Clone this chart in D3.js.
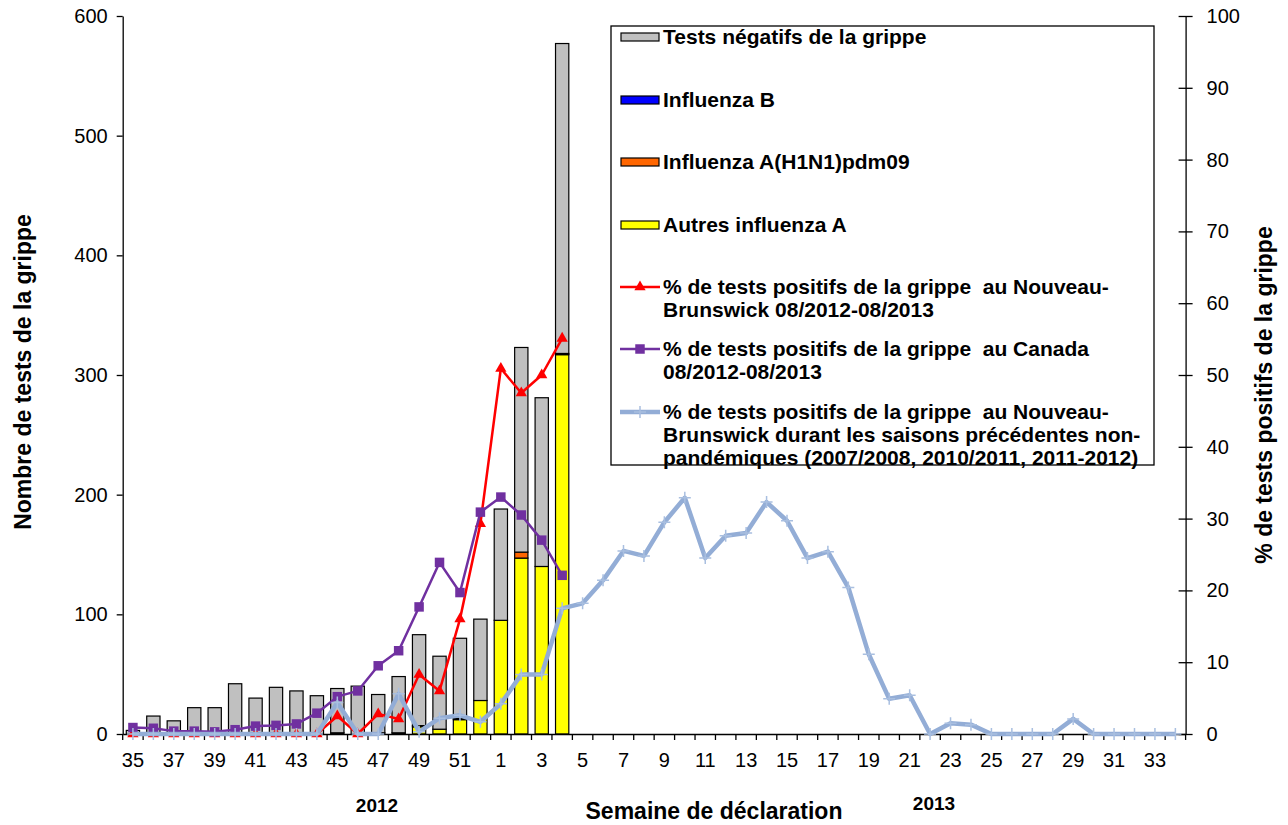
<!DOCTYPE html>
<html>
<head>
<meta charset="utf-8">
<script src="https://cdn.jsdelivr.net/npm/d3@7"></script>
<style>
body { margin: 0; background: #fff; }
svg { font-family: "Liberation Sans", Arial, sans-serif; }
.axis path, .axis line { stroke: #000; stroke-width: 1.3; }
.axis text { font-size: 20px; fill: #000; }
.legend text { font-size: 21px; font-weight: bold; white-space: pre; }
</style>
</head>
<body>
<svg width="1288" height="825"></svg>
<script>
// semaines de déclaration (2012: 35-52, 2013: 1-34)
var weeks = ["35","36","37","38","39","40","41","42","43","44","45","46","47","48","49","50","51","52",
    "1","2","3","4","5","6","7","8","9","10","11","12","13","14","15","16","17","18","19","20",
    "21","22","23","24","25","26","27","28","29","30","31","32","33","34"];

// nombre de tests (semaines 35 à 4)
var autresA  = [0,0,0,0,0,0,0,0,0,0,1,0,1,1,6,4,12,28,95,147,140,317];
var h1n1     = [0,0,0,0,0,0,0,0,0,0,0,0,0,0,1,0,1,0,0,5,0,1];
var grippeB  = [0,0,0,0,0,0,0,0,0,0,0,0,0,0,0,0,0,0,0,0,0,0];
var negatifs = [3,15,11,22,22,42,30,39,36,32,37,40,32,47,76,61,67,68,93,171,141,259];

// % de tests positifs
var pctNB     = [0,0,0,0,0,0,0,0,0,0,2.5,0,2.8,2.1,8.3,6.0,16.0,29.3,50.9,47.5,50.0,55.1];
var pctCanada = [0.9,0.8,0.4,0.4,0.3,0.6,1.1,1.2,1.4,2.9,5.2,6.0,9.5,11.6,17.7,23.9,19.7,30.9,33.0,30.5,27.0,22.1];
var pctHist   = [0,0,0,0,0,0,0,0,0,0,4.4,0,0,5.6,0.3,2.2,2.6,1.7,
    4.2,8.3,8.3,17.5,18.2,21.4,25.5,24.8,29.5,32.9,24.5,27.6,28.0,32.3,29.7,24.5,25.4,20.4,11.1,4.9,
    5.4,0,1.5,1.3,0,0,0,0,2.1,0,0,0,0,0];

var leftTicks = [0,100,200,300,400,500,600];
var rightTicks = [0,10,20,30,40,50,60,70,80,90,100];

var svg = d3.select("svg"),
    plot = {left: 122.7, right: 1185.6, top: 16, bottom: 734};

var x = d3.scaleBand().domain(weeks).range([plot.left, plot.right]).padding(0),
    yLeft = d3.scaleLinear().domain([0, 600]).range([plot.bottom, plot.top]),
    yRight = d3.scaleLinear().domain([0, 100]).range([plot.bottom, plot.top]);

var barW = x.bandwidth() * 0.65;
function cx(w) { return x(w) + x.bandwidth() / 2; }

var keys = ["autresA", "h1n1", "grippeB", "negatifs"],
    colors = {autresA: "#FFFF00", h1n1: "#FF6600", grippeB: "#0000FF", negatifs: "#C0C0C0"};

var rows = negatifs.map(function (v, i) {
    return {week: weeks[i], autresA: autresA[i], h1n1: h1n1[i], grippeB: grippeB[i], negatifs: v};
});
var stacked = d3.stack().keys(keys)(rows);

// barres empilées
svg.append("g").attr("class", "bars")
    .selectAll("g")
    .data(stacked)
    .enter().append("g")
    .attr("fill", function (d) { return colors[d.key]; })
    .selectAll("rect")
    .data(function (d) { return d.filter(function (p) { return p[1] > p[0]; }); })
    .enter().append("rect")
    .attr("x", function (d) { return cx(d.data.week) - barW / 2; })
    .attr("y", function (d) { return yLeft(d[1]); })
    .attr("width", barW)
    .attr("height", function (d) { return yLeft(d[0]) - yLeft(d[1]); })
    .attr("stroke", "#000")
    .attr("stroke-width", 1.2);

// axes
var gLeft = svg.append("g").attr("class", "axis")
    .attr("transform", "translate(" + plot.left + ",0)")
    .call(d3.axisLeft(yLeft).tickValues(leftTicks).tickSize(6).tickSizeOuter(0).tickPadding(9));

var gRight = svg.append("g").attr("class", "axis")
    .attr("transform", "translate(" + plot.right + ",0)")
    .call(d3.axisRight(yRight).tickValues(rightTicks).tickSize(7).tickSizeOuter(0).tickPadding(14));
gRight.selectAll(".tick line").attr("x1", -7);

var gX = svg.append("g").attr("class", "axis")
    .attr("transform", "translate(0," + plot.bottom + ")")
    .call(d3.axisBottom(x).tickSize(0).tickSizeOuter(0).tickPadding(19)
        .tickFormat(function (d, i) { return i % 2 === 0 ? d : ""; }));
gX.selectAll(".bound")
    .data(d3.range(weeks.length + 1))
    .enter().append("line")
    .attr("class", "bound")
    .attr("x1", function (i) { return plot.left + i * x.step(); })
    .attr("x2", function (i) { return plot.left + i * x.step(); })
    .attr("y1", 0)
    .attr("y2", 6);

// courbes
var series = [
    {name: "nb", values: pctNB, color: "#FF0000", width: 2.5},
    {name: "canada", values: pctCanada, color: "#7030A0", width: 2.5},
    {name: "hist", values: pctHist, color: "#93ADD6", width: 4.5}
];

var line = d3.line()
    .x(function (d) { return cx(d.week); })
    .y(function (d) { return yRight(d.pct); });

var triangle = d3.symbol().type(d3.symbolTriangle).size(55),
    square = d3.symbol().type(d3.symbolSquare).size(90);
var plus = "M-6,0H6M0,-6V6";

series.forEach(function (s) {
    var pts = s.values.map(function (v, i) { return {week: weeks[i], pct: v}; });
    var g = svg.append("g").attr("class", "series");
    g.append("path")
        .attr("d", line(pts))
        .attr("fill", "none")
        .attr("stroke", s.color)
        .attr("stroke-width", s.width)
        .attr("stroke-linejoin", "round");
    g.selectAll(".mk")
        .data(pts)
        .enter().append("path")
        .attr("class", "mk")
        .attr("transform", function (d) { return "translate(" + cx(d.week) + "," + yRight(d.pct) + ")"; })
        .attr("d", s.name === "nb" ? triangle : s.name === "canada" ? square : plus)
        .attr("fill", s.name === "hist" ? "none" : s.color)
        .attr("stroke", s.name === "hist" ? "#A9BFE0" : "none")
        .attr("stroke-width", 1.5);
});

// titres
svg.append("text")
    .attr("transform", "translate(23,372) rotate(-90)")
    .attr("text-anchor", "middle")
    .attr("dominant-baseline", "central")
    .style("font", "bold 23px 'Liberation Sans', Arial, sans-serif")
    .text("Nombre de tests de la grippe");

svg.append("text")
    .attr("transform", "translate(1264,395) rotate(-90)")
    .attr("text-anchor", "middle")
    .attr("dominant-baseline", "central")
    .style("font", "bold 23px 'Liberation Sans', Arial, sans-serif")
    .text("% de tests positifs de la grippe");

svg.append("text")
    .attr("x", 714).attr("y", 819)
    .attr("text-anchor", "middle")
    .style("font", "bold 23px 'Liberation Sans', Arial, sans-serif")
    .text("Semaine de déclaration");

svg.selectAll(".year")
    .data([{t: "2012", x: 377, y: 812}, {t: "2013", x: 934, y: 810}])
    .enter().append("text")
    .attr("class", "year")
    .attr("x", function (d) { return d.x; })
    .attr("y", function (d) { return d.y; })
    .attr("text-anchor", "middle")
    .style("font", "bold 19px 'Liberation Sans', Arial, sans-serif")
    .text(function (d) { return d.t; });

// légende
var legend = svg.append("g").attr("class", "legend");
legend.append("rect")
    .attr("x", 611).attr("y", 26)
    .attr("width", 543).attr("height", 439)
    .attr("fill", "#fff")
    .attr("stroke", "#000")
    .attr("stroke-width", 1.3);

var legendItems = [
    {kind: "bar", key: "negatifs", y: 37, lines: ["Tests négatifs de la grippe"]},
    {kind: "bar", key: "grippeB", y: 100, lines: ["Influenza B"]},
    {kind: "bar", key: "h1n1", y: 162, lines: ["Influenza A(H1N1)pdm09"]},
    {kind: "bar", key: "autresA", y: 225, lines: ["Autres influenza A"]},
    {kind: "line", s: 0, y: 287, lines: ["% de tests positifs de la grippe  au Nouveau-", "Brunswick 08/2012-08/2013"]},
    {kind: "line", s: 1, y: 349, lines: ["% de tests positifs de la grippe  au Canada", "08/2012-08/2013"]},
    {kind: "line", s: 2, y: 412, lines: ["% de tests positifs de la grippe  au Nouveau-",
        "Brunswick durant les saisons précédentes non-", "pandémiques (2007/2008, 2010/2011, 2011-2012)"]}
];

var rowsL = legend.selectAll(".legend-row")
    .data(legendItems)
    .enter().append("g")
    .attr("class", "legend-row")
    .attr("transform", function (d) { return "translate(0," + d.y + ")"; });

rowsL.filter(function (d) { return d.kind === "bar"; })
    .append("rect")
    .attr("x", 621).attr("y", -4)
    .attr("width", 38).attr("height", 8)
    .attr("fill", function (d) { return colors[d.key]; })
    .attr("stroke", "#000")
    .attr("stroke-width", 1.2);

var lineRows = rowsL.filter(function (d) { return d.kind === "line"; });
lineRows.append("line")
    .attr("x1", 620).attr("x2", 660)
    .attr("stroke", function (d) { return series[d.s].color; })
    .attr("stroke-width", function (d) { return series[d.s].width; });
lineRows.append("path")
    .attr("transform", "translate(640,0)")
    .attr("d", function (d) { return d.s === 0 ? triangle() : d.s === 1 ? square() : plus; })
    .attr("fill", function (d) { return d.s === 2 ? "none" : series[d.s].color; })
    .attr("stroke", function (d) { return d.s === 2 ? "#A9BFE0" : "none"; })
    .attr("stroke-width", 1.5);

rowsL.append("text")
    .attr("x", 663)
    .selectAll("tspan")
    .data(function (d) { return d.lines; })
    .enter().append("tspan")
    .attr("x", 663)
    .attr("dy", function (d, i) { return i === 0 ? "0.35em" : "23px"; })
    .text(function (d) { return d; });
</script>
</body>
</html>
